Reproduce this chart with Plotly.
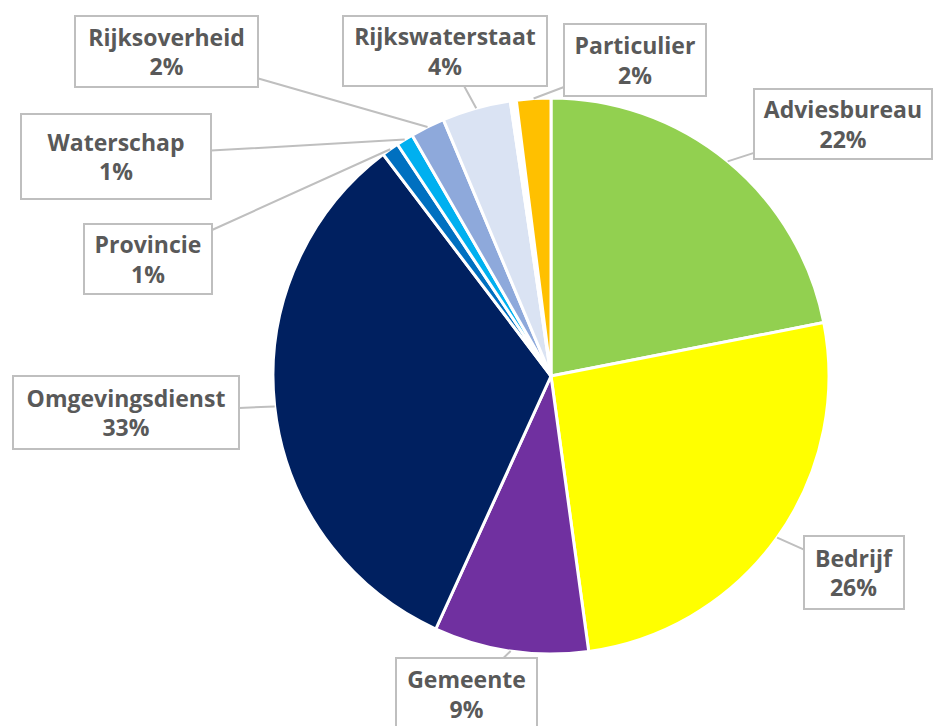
import math
import plotly.graph_objects as go

# ---- data ----
categories = ["Adviesbureau", "Bedrijf", "Gemeente", "Omgevingsdienst", "Provincie",
              "Waterschap", "Rijksoverheid", "Rijkswaterstaat", "Overig", "Particulier"]
shares = [22, 26, 9, 33, 1, 1, 2, 4, 0.35, 2]
show_label = [True, True, True, True, True, True, True, True, False, True]

# ---- styles ----
colors = ["#92D050", "#FFFF00", "#7030A0", "#002060", "#0070C0",
          "#00B0F0", "#8EA9DB", "#DAE3F3", "#FFFFFF", "#FFC000"]
# label box centre (px) and size (px)
boxes = {
    "Adviesbureau": (843, 124, 180, 72),
    "Bedrijf": (854, 572, 102, 75),
    "Gemeente": (466, 694, 143, 74),
    "Omgevingsdienst": (126, 412, 228, 75),
    "Provincie": (148, 259, 130, 72),
    "Waterschap": (116, 156, 192, 87),
    "Rijksoverheid": (166, 52, 185, 73),
    "Rijkswaterstaat": (445, 51, 206, 72),
    "Particulier": (635, 60, 144, 74),
}

W, H = 934, 726
CX, CY, R = 551, 376, 278

fig = go.Figure(go.Pie(
    labels=categories, values=shares, sort=False, direction="clockwise", rotation=0,
    marker=dict(colors=colors, line=dict(color="white", width=3)),
    textinfo="none", hoverinfo="label+percent", showlegend=False,
    domain=dict(x=[(CX - R) / W, (CX + R) / W], y=[1 - (CY + R) / H, 1 - (CY - R) / H]),
))

total = sum(shares)
cum = 0.0
annotations = []
for name, v, show in zip(categories, shares, show_label):
    mid = (cum + v / 2) / total * 2 * math.pi
    cum += v
    if not show:
        continue
    px = CX + R * math.sin(mid)
    py = CY - R * math.cos(mid)
    bx, by, bw, bh = boxes[name]
    annotations.append(dict(
        x=px / W, y=1 - py / H, xref="paper", yref="paper",
        ax=bx - px, ay=by - py, axref="pixel", ayref="pixel",
        text=f"<b>{name}<br>{v}%</b>", showarrow=True, arrowhead=0,
        arrowcolor="#BFBFBF", arrowwidth=2,
        font=dict(family="Open Sans, DejaVu Sans, sans-serif", size=23, color="#595959"),
        bgcolor="white", bordercolor="#BFBFBF", borderwidth=2, borderpad=0,
        width=bw - 4, height=bh - 4, align="center", valign="middle",
    ))

fig.update_layout(
    width=W, height=H, margin=dict(l=0, r=0, t=0, b=0),
    paper_bgcolor="white", plot_bgcolor="white",
    annotations=annotations,
)

fig.write_html("out.html", config={"displayModeBar": False},
               post_script="document.body.style.margin='0';")
